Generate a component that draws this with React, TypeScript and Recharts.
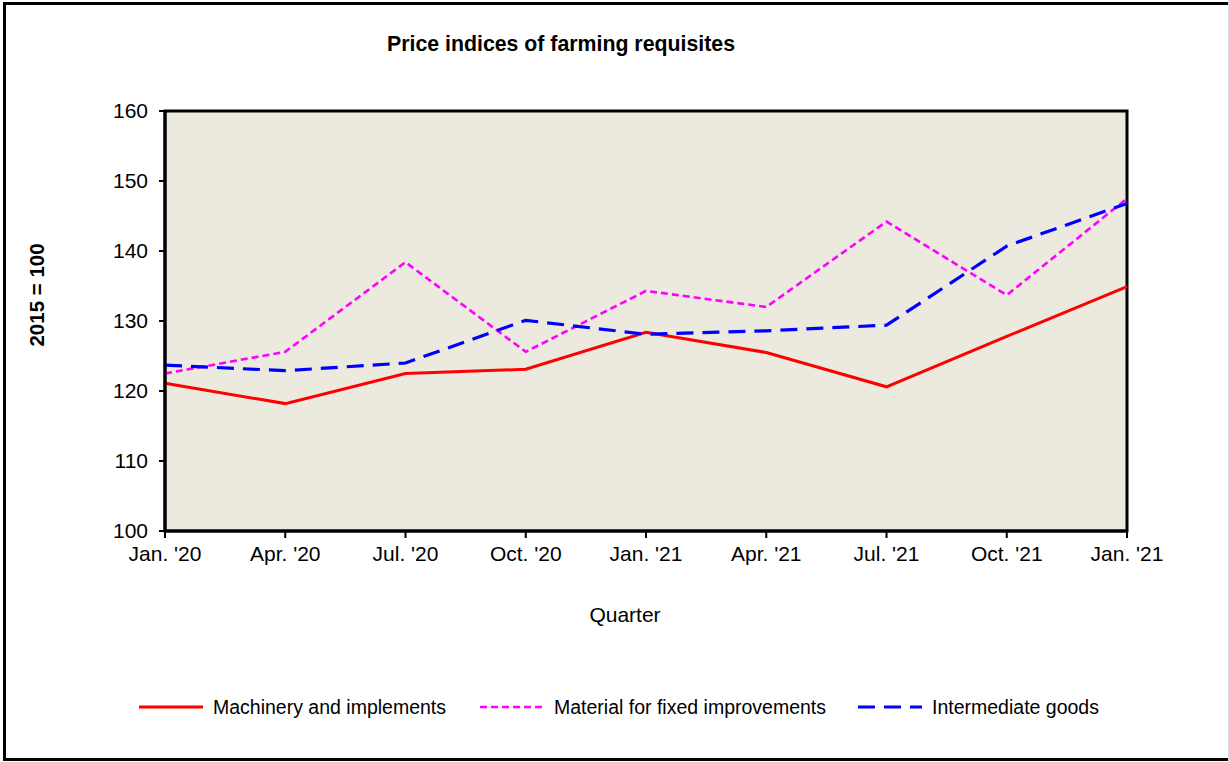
import React from 'react';
import {
  LineChart,
  Line,
  XAxis,
  YAxis,
  ReferenceArea,
} from 'recharts';

const quarters = ["Jan. '20", "Apr. '20", "Jul. '20", "Oct. '20", "Jan. '21", "Apr. '21", "Jul. '21", "Oct. '21", "Jan. '21"];
const machinery = [121.1, 118.2, 122.5, 123.1, 128.4, 125.5, 120.6, 127.8, 134.9];
const material = [122.5, 125.6, 138.4, 125.6, 134.3, 132.0, 144.2, 133.7, 147.5];
const intermediate = [123.7, 122.9, 124.0, 130.1, 128.1, 128.6, 129.4, 140.7, 146.8];
const yTicks = [100, 110, 120, 130, 140, 150, 160];

const data = quarters.map((q, i) => ({
  q,
  machinery: machinery[i],
  material: material[i],
  intermediate: intermediate[i],
}));

const FONT = '"Liberation Sans", Arial, sans-serif';

const legendItems = [
  { label: 'Machinery and implements', color: '#ff0000', dash: undefined, width: 3, x: 139 },
  { label: 'Material for fixed improvements', color: '#ff00ff', dash: '7 4', width: 2.6, x: 480 },
  { label: 'Intermediate goods', color: '#0000ff', dash: '17 9', width: 3.2, x: 858 },
];

export default function App() {
  return (
    <div style={{ position: 'absolute', left: 0, top: 0, width: 1229, height: 762, overflow: 'hidden', background: '#fff', fontFamily: FONT }}>
      <LineChart
        width={1229}
        height={762}
        data={data}
        margin={{ top: 111, right: 102, bottom: 171, left: 0 }}
      >
        <ReferenceArea y1={100} y2={160} fill="#ece9df" fillOpacity={1} stroke="none" />
        <XAxis
          dataKey="q"
          allowDuplicatedCategory
          axisLine={{ stroke: '#000', strokeWidth: 3 }}
          tickLine={{ stroke: '#000', strokeWidth: 2 }}
          tickSize={7}
          tickMargin={8}
          tick={{ fill: '#000', fontSize: 21, fontFamily: FONT }}
          interval={0}
          height={60}
        />
        <YAxis
          domain={[100, 160]}
          ticks={yTicks}
          width={165}
          axisLine={{ stroke: '#000', strokeWidth: 3 }}
          tickLine={{ stroke: '#000', strokeWidth: 2 }}
          tickSize={6}
          tickMargin={11}
          tick={{ fill: '#000', fontSize: 21, fontFamily: FONT }}
          allowDataOverflow
        />
        <ReferenceArea y1={100} y2={160} fill="none" stroke="#000" strokeWidth={3} />
        <Line dataKey="machinery" stroke="#ff0000" strokeWidth={3} dot={false} isAnimationActive={false} />
        <Line dataKey="material" stroke="#ff00ff" strokeWidth={2.6} strokeDasharray="7 4" dot={false} isAnimationActive={false} />
        <Line dataKey="intermediate" stroke="#0000ff" strokeWidth={3.2} strokeDasharray="17 9" dot={false} isAnimationActive={false} />
      </LineChart>

      <svg width={1229} height={762} style={{ position: 'absolute', left: 0, top: 0, pointerEvents: 'none' }}>
        <text x={561} y={51} textAnchor="middle" fontSize={21.3} fontWeight="bold" fontFamily={FONT} fill="#000">
          Price indices of farming requisites
        </text>
        <text x={625} y={622} textAnchor="middle" fontSize={21} fontFamily={FONT} fill="#000">
          Quarter
        </text>
        <text transform="translate(44,295) rotate(-90)" textAnchor="middle" fontSize={20.5} fontWeight="bold" fontFamily={FONT} fill="#000">
          2015 = 100
        </text>
        {legendItems.map((it) => (
          <g key={it.label}>
            <line x1={it.x} x2={it.x + 64} y1={707} y2={707} stroke={it.color} strokeWidth={it.width} strokeDasharray={it.dash} />
            <text x={it.x + 74} y={714} fontSize={19.5} fontFamily={FONT} fill="#000">
              {it.label}
            </text>
          </g>
        ))}
      </svg>

      <div style={{ position: 'absolute', left: 3, top: 2, width: 1300, height: 759, boxSizing: 'border-box', border: '3px solid #000' }} />
      <div style={{ position: 'absolute', left: 1228, top: 0, width: 1, height: 762, background: '#ddd' }} />
    </div>
  );
}
